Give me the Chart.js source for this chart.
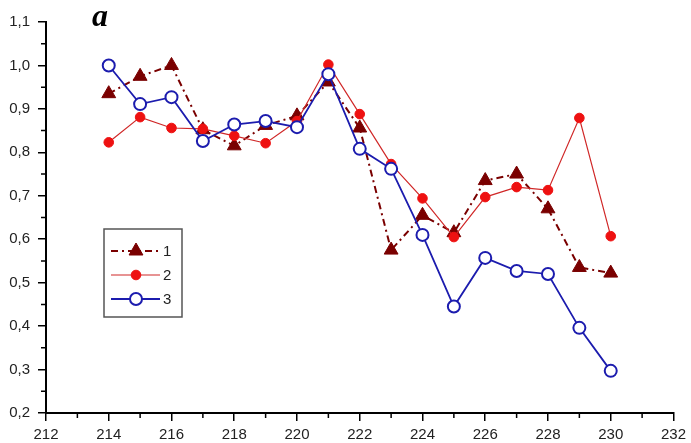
<!DOCTYPE html>
<html>
<head>
<meta charset="utf-8">
<script src="https://cdn.jsdelivr.net/npm/chart.js@4.4.1/dist/chart.umd.min.js"></script>
<style>
  html, body { margin: 0; padding: 0; background: #fff; }
  #wrap { width: 691px; height: 443px; }
</style>
</head>
<body>
<div id="wrap"><canvas id="chart" width="691" height="443"></canvas></div>
<script>
// x positions (wavelength-like index) and the three series
const xValues = [214, 215, 216, 217, 218, 219, 220, 221, 222, 223, 224, 225, 226, 227, 228, 229, 230];
const series1 = [0.935, 0.975, 1.0, 0.852, 0.815, 0.862, 0.884, 0.962, 0.856, 0.575, 0.655, 0.615, 0.735, 0.75, 0.67, 0.535, 0.522];
const series2 = [0.823, 0.881, 0.856, 0.854, 0.838, 0.821, 0.872, 1.002, 0.888, 0.773, 0.694, 0.605, 0.697, 0.72, 0.713, 0.879, 0.607];
const series3 = [1.0, 0.911, 0.927, 0.826, 0.864, 0.872, 0.858, 0.98, 0.808, 0.762, 0.61, 0.445, 0.557, 0.527, 0.52, 0.396, 0.297];
const seriesLabels = ['1', '2', '3'];
const panelLetter = 'a';

const FONT = "'Liberation Sans', Arial, sans-serif";

function toPoints(ys) {
    return xValues.map((x, i) => ({ x: x, y: ys[i] }));
}

const styles = [
    { color: '#7a0000', pointColor: '#7a0000', dash: [7, 4, 2, 4], width: 2, pointStyle: 'triangle', radius: 8, fill: '#7a0000', pointBorder: 1 },
    { color: '#d02828', pointColor: '#ee1111', dash: [], width: 1.2, pointStyle: 'circle', radius: 4.8, fill: '#ee1111', pointBorder: 1 },
    { color: '#1c1cae', pointColor: '#1c1cae', dash: [], width: 1.8, pointStyle: 'circle', radius: 6, fill: '#ffffff', pointBorder: 2 }
];

const seriesData = [series1, series2, series3];
const drawOrder = [3, 2, 1];

const datasets = seriesData.map((ys, i) => ({
    label: seriesLabels[i],
    data: toPoints(ys),
    order: drawOrder[i],
    borderColor: styles[i].color,
    borderWidth: styles[i].width,
    borderDash: styles[i].dash,
    tension: 0,
    fill: false,
    pointStyle: styles[i].pointStyle,
    pointRadius: styles[i].radius,
    pointHoverRadius: styles[i].radius,
    pointBackgroundColor: styles[i].fill,
    pointBorderColor: styles[i].pointColor,
    pointBorderWidth: styles[i].pointBorder
}));

// short minor ticks halfway between the labelled ones
const minorTicks = {
    id: 'minorTicks',
    afterDraw(chart) {
        const ctx = chart.ctx;
        const xs = chart.scales.x, ys = chart.scales.y;
        ctx.save();
        ctx.strokeStyle = '#000';
        ctx.lineWidth = 1.5;
        ctx.beginPath();
        for (let v = xs.min + 1; v < xs.max; v += 2) {
            const px = xs.getPixelForValue(v);
            ctx.moveTo(px, ys.bottom);
            ctx.lineTo(px, ys.bottom + 5);
        }
        for (let v = ys.min + 0.05; v < ys.max; v += 0.1) {
            const py = ys.getPixelForValue(v);
            ctx.moveTo(xs.left, py);
            ctx.lineTo(xs.left - 5, py);
        }
        ctx.stroke();
        ctx.restore();
    }
};

// boxed legend: line sample with marker, then the label
const boxLegend = {
    id: 'boxLegend',
    afterDraw(chart) {
        const ctx = chart.ctx;
        const box = { x: 104, y: 229, w: 78, h: 88 };
        const rows = [251, 275, 299];
        ctx.save();
        ctx.fillStyle = '#fff';
        ctx.fillRect(box.x, box.y, box.w, box.h);
        ctx.strokeStyle = '#555';
        ctx.lineWidth = 1.5;
        ctx.strokeRect(box.x, box.y, box.w, box.h);
        chart.data.datasets.forEach((ds, i) => {
            const y = rows[i];
            const st = styles[i];
            ctx.strokeStyle = st.color;
            ctx.lineWidth = st.width;
            ctx.setLineDash(st.dash);
            ctx.beginPath();
            ctx.moveTo(111, y);
            ctx.lineTo(160, y);
            ctx.stroke();
            ctx.setLineDash([]);
            ctx.fillStyle = st.fill;
            ctx.strokeStyle = st.pointColor;
            ctx.lineWidth = st.pointBorder;
            Chart.helpers.drawPoint(ctx, {
                pointStyle: st.pointStyle,
                radius: st.radius,
                rotation: 0,
                borderWidth: st.pointBorder
            }, 136, y);
            ctx.fillStyle = '#222';
            ctx.font = '15px ' + FONT;
            ctx.textAlign = 'left';
            ctx.textBaseline = 'middle';
            ctx.fillText(ds.label, 163, y + 1);
        });
        ctx.restore();
    }
};

// panel letter in the upper left corner
const panelTag = {
    id: 'panelTag',
    afterDraw(chart) {
        const ctx = chart.ctx;
        ctx.save();
        ctx.fillStyle = '#000';
        ctx.font = "bold italic 32px 'Liberation Serif', 'Times New Roman', serif";
        ctx.textAlign = 'left';
        ctx.textBaseline = 'alphabetic';
        ctx.fillText(panelLetter, 92, 26);
        ctx.restore();
    }
};

new Chart(document.getElementById('chart'), {
    type: 'line',
    data: { datasets: datasets },
    options: {
        responsive: false,
        animation: false,
        events: [],
        layout: { padding: { top: 22, right: 14, left: 0, bottom: 0 } },
        plugins: {
            legend: { display: false },
            tooltip: { enabled: false }
        },
        scales: {
            x: {
                type: 'linear',
                min: 212,
                max: 232,
                afterFit: function(scale) { scale.height = 30; },
                border: { display: true, color: '#000', width: 2 },
                grid: { drawOnChartArea: false, drawTicks: true, tickLength: 8, tickColor: '#000', lineWidth: 1.5 },
                ticks: {
                    stepSize: 2,
                    padding: 5,
                    color: '#222',
                    font: { family: FONT, size: 15 },
                    maxRotation: 0,
                    callback: v => String(v)
                }
            },
            y: {
                type: 'linear',
                min: 0.2,
                max: 1.1,
                afterFit: function(scale) { scale.width = 46; },
                border: { display: true, color: '#000', width: 2 },
                grid: { drawOnChartArea: false, drawTicks: true, tickLength: 8, tickColor: '#000', lineWidth: 1.5 },
                ticks: {
                    stepSize: 0.1,
                    padding: 8,
                    color: '#222',
                    font: { family: FONT, size: 15 },
                    callback: v => v.toFixed(1).replace('.', ',')
                }
            }
        }
    },
    plugins: [minorTicks, boxLegend, panelTag]
});
</script>
</body>
</html>
